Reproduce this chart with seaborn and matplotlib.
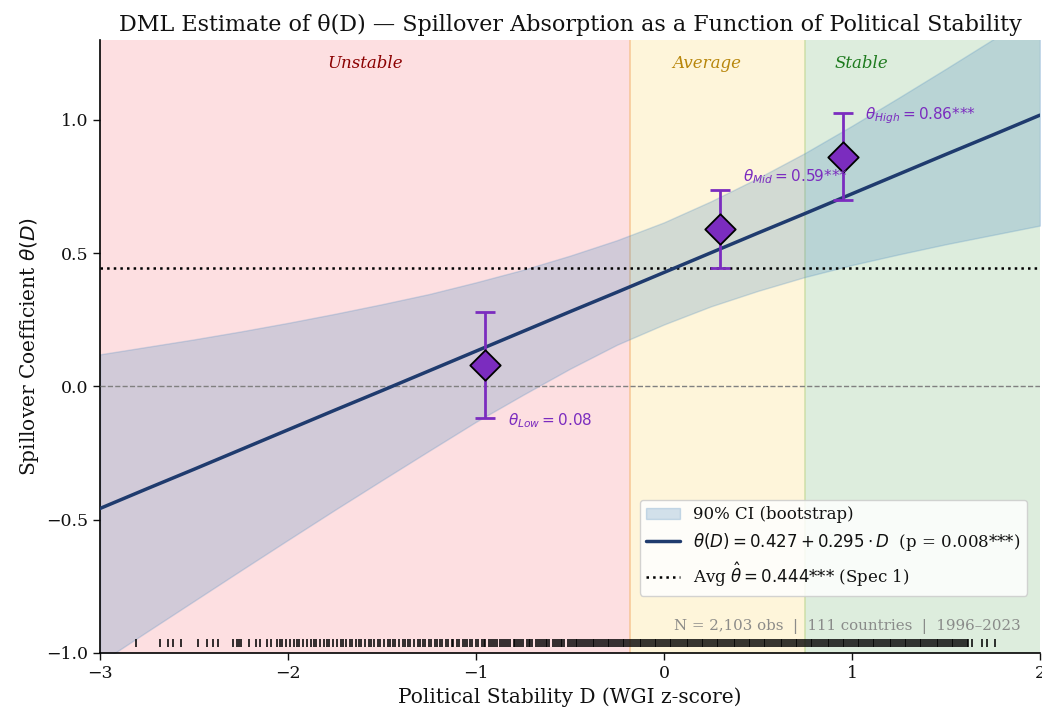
import matplotlib
matplotlib.use("Agg")
import matplotlib.pyplot as plt
import seaborn as sns
from matplotlib.patches import Patch
from matplotlib.lines import Line2D

# regimes of political stability (cut at terciles of D)
regime_names = ["Unstable", "Average", "Stable"]
regime_lo = [-3.0, -0.18, 0.75]
regime_hi = [-0.18, 0.75, 2.0]
regime_fill = ["#fbb4b9", "#fde9a8", "#aed5ae"]
regime_text = ["#8b0000", "#b8860b", "#1e7b1e"]
regime_label_x = [-1.59, 0.23, 1.05]

# linear DML fit theta(D) = 0.427 + 0.295 D and 90% bootstrap band
grid_d = [-3.0, -2.75, -2.5, -2.25, -2.0, -1.75, -1.5, -1.25, -1.0, -0.75, -0.5,
          -0.25, 0.0, 0.25, 0.5, 0.75, 1.0, 1.25, 1.5, 1.75, 2.0]
fit_theta = [-0.458, -0.384, -0.311, -0.237, -0.163, -0.089, -0.016, 0.058, 0.132,
             0.206, 0.280, 0.353, 0.427, 0.501, 0.575, 0.648, 0.722, 0.796, 0.870,
             0.943, 1.017]
band_lo = [-1.036, -0.920, -0.805, -0.690, -0.576, -0.463, -0.352, -0.242, -0.133,
           -0.032, 0.066, 0.156, 0.232, 0.300, 0.358, 0.410, 0.455, 0.495, 0.533,
           0.568, 0.603]
band_hi = [0.120, 0.148, 0.176, 0.206, 0.238, 0.272, 0.308, 0.346, 0.390, 0.437,
           0.490, 0.548, 0.615, 0.694, 0.781, 0.875, 0.977, 1.083, 1.191, 1.301, 1.414]
avg_theta = 0.444

# tercile estimates
tercile_d = [-0.95, 0.30, 0.95]
tercile_theta = [0.08, 0.59, 0.86]
tercile_lo = [-0.117, 0.442, 0.697]
tercile_hi = [0.277, 0.735, 1.025]
tercile_labels = [r"$\theta_{Low} = 0.08$", r"$\theta_{Mid} = 0.59$***", r"$\theta_{High} = 0.86$***"]
tercile_offsets = [(16, -40), (16, 38), (16, 30)]

rug_h = [
    -281, -268, -264, -261, -257, -248, -243, -240, -237, -229, -227, -226, -225, -221,
    -217, -215, -211, -209, -206, -204, -203, -201, -199, -197, -195, -194, -192, -190,
    -188, -186, -185, -183, -181, -179, -178, -176, -174, -172, -171, -169, -167, -166,
    -164, -162, -161, -159, -157, -156, -154, -152, -151, -149, -147, -146, -144, -143,
    -141, -139, -138, -136, -135, -133, -131, -130, -128, -127, -125, -124, -122, -121,
    -119, -118, -116, -115, -113, -112, -110, -109, -107, -106, -105, -103, -102, -100,
    -99, -97, -96, -95, -93, -92, -91, -90, -89, -87, -86, -85, -84, -83, -82, -80,
    -79, -78, -77, -76, -75, -73, -72, -71, -70, -68, -67, -66, -65, -64, -63, -62,
    -61, -59, -58, -57, -56, -55, -54, -53, -51, -50, -49, -48, -47, -46, -45, -44,
    -43, -42, -41, -40, -39, -38, -37, -36, -35, -34, -33, -32, -31, -30, -29, -28,
    -27, -26, -25, -24, -23, -22, -21, -20, -19, -18, -17, -16, -15, -14, -13, -12,
    -11, -10, -9, -8, -7, -6, -5, -4, -3, -2, -1, 0, 1, 2, 3, 4, 5, 6, 7, 8, 9, 10,
    11, 12, 13, 14, 15, 16, 17, 18, 19, 20, 21, 22, 23, 24, 25, 26, 27, 28, 29, 30,
    31, 32, 33, 34, 35, 36, 37, 38, 39, 40, 41, 42, 43, 44, 45, 46, 47, 48, 49, 50,
    51, 52, 53, 54, 55, 56, 57, 58, 59, 60, 61, 62, 63, 64, 65, 66, 67, 68, 69, 70,
    71, 72, 73, 74, 75, 76, 77, 78, 79, 80, 81, 82, 83, 84, 85, 86, 87, 88, 89, 90,
    91, 92, 93, 94, 95, 96, 97, 98, 99, 100, 101, 102, 103, 104, 105, 106, 107, 108,
    109, 110, 111, 112, 113, 114, 115, 116, 117, 118, 119, 120, 121, 122, 123, 124,
    125, 126, 127, 128, 129, 130, 131, 132, 133, 134, 135, 136, 137, 138, 139, 140,
    141, 142, 143, 144, 145, 146, 147, 148, 149, 150, 151, 152, 153, 154, 155, 156,
    157, 158, 159, 160, 161, 162, 164, 169, 172, 176,
]
rug_d = [v / 100 for v in rug_h]

sns.set_theme(style="white")
plt.rcParams["font.family"] = ["DejaVu Serif"]
plt.rcParams["mathtext.fontset"] = "dejavusans"
plt.rcParams["text.color"] = "#111111"
plt.rcParams["axes.labelcolor"] = "#111111"
plt.rcParams["xtick.color"] = "#111111"
plt.rcParams["ytick.color"] = "#111111"

band_color = "#4f8cc0"
line_color = "#1f3b6e"
purple = "#7b2cbf"

fig, ax = plt.subplots(figsize=(10.42, 7.09), dpi=100)
fig.subplots_adjust(left=0.096, right=0.998, top=0.944, bottom=0.079)

for lo, hi, fc, tc, name, lx in zip(regime_lo, regime_hi, regime_fill, regime_text,
                                    regime_names, regime_label_x):
    ax.axvspan(lo, hi, facecolor=fc, alpha=0.42, edgecolor="none", zorder=0)
    ax.text(lx, 1.212, name, color=tc, fontsize=12, style="italic",
            ha="center", va="center", zorder=1)
ax.axvline(regime_hi[0], color="#f5c08a", lw=1.2, alpha=0.8, zorder=0)
ax.axvline(regime_hi[1], color="#c9dca0", lw=1.2, alpha=0.8, zorder=0)

ax.fill_between(grid_d, band_lo, band_hi, color=band_color, alpha=0.25, zorder=2)
sns.lineplot(x=grid_d, y=fit_theta, color=line_color, lw=2.5, ax=ax, zorder=4)

ax.axhline(avg_theta, color="black", ls=":", lw=1.8, zorder=3)
ax.axhline(0, color="gray", ls="--", lw=1.0, zorder=3)

yerr = [[t - l for t, l in zip(tercile_theta, tercile_lo)],
        [h - t for t, h in zip(tercile_theta, tercile_hi)]]
ax.errorbar(tercile_d, tercile_theta, yerr=yerr, fmt="none", ecolor=purple,
            elinewidth=2, capsize=7, capthick=2, zorder=5)
sns.scatterplot(x=tercile_d, y=tercile_theta, marker="D", s=240, color=purple,
                edgecolor="black", linewidth=1.3, ax=ax, zorder=6)
for d, t, lab, off in zip(tercile_d, tercile_theta, tercile_labels, tercile_offsets):
    ax.annotate(lab, (d, t), xytext=off, textcoords="offset points", color=purple,
                fontsize=11, family="DejaVu Sans", ha="left", va="center", zorder=7)

sns.scatterplot(x=rug_d, y=[-0.961] * len(rug_d), marker="|", s=34, color="black",
                alpha=0.9, linewidth=1.25, ax=ax, zorder=3)

ax.text(0.98, 0.044, "N = 2,103 obs  |  111 countries  |  1996\u20132023",
        transform=ax.transAxes, ha="right", va="center", color="gray",
        fontsize=10.8, alpha=0.9)

handles = [
    Patch(facecolor=band_color, edgecolor=band_color, alpha=0.25, label="90% CI (bootstrap)"),
    Line2D([], [], color=line_color, lw=2.5,
           label=r"$\theta(D) = 0.427 + 0.295 \cdot D$  (p = 0.008***)"),
    Line2D([], [], color="black", ls=":", lw=1.8,
           label=r"Avg $\hat{\theta} = 0.444$*** (Spec 1)"),
]
ax.legend(handles=handles, loc="lower right", bbox_to_anchor=(0.995, 0.08),
          fontsize=12, frameon=True, framealpha=0.85, edgecolor="#cccccc",
          labelspacing=0.45)

ax.set_xlim(-3, 2)
ax.set_ylim(-1, 1.3)
ax.set_xticks([-3, -2, -1, 0, 1, 2])
ax.set_yticks([-1.0, -0.5, 0.0, 0.5, 1.0])
ax.set_xlabel("Political Stability D (WGI z-score)", fontsize=14.5)
ax.set_ylabel(r"Spillover Coefficient $\theta(D)$", fontsize=14.5)
ax.set_title("DML Estimate of \u03b8(D) \u2014 Spillover Absorption as a Function of Political Stability",
             fontsize=16)
ax.tick_params(axis="both", labelsize=12.5, direction="out", length=5, width=1,
               bottom=True, left=True)
for s in ["left", "bottom"]:
    ax.spines[s].set_color("black")
    ax.spines[s].set_linewidth(1.2)
sns.despine(ax=ax)

fig.savefig("out.png", dpi=100)
